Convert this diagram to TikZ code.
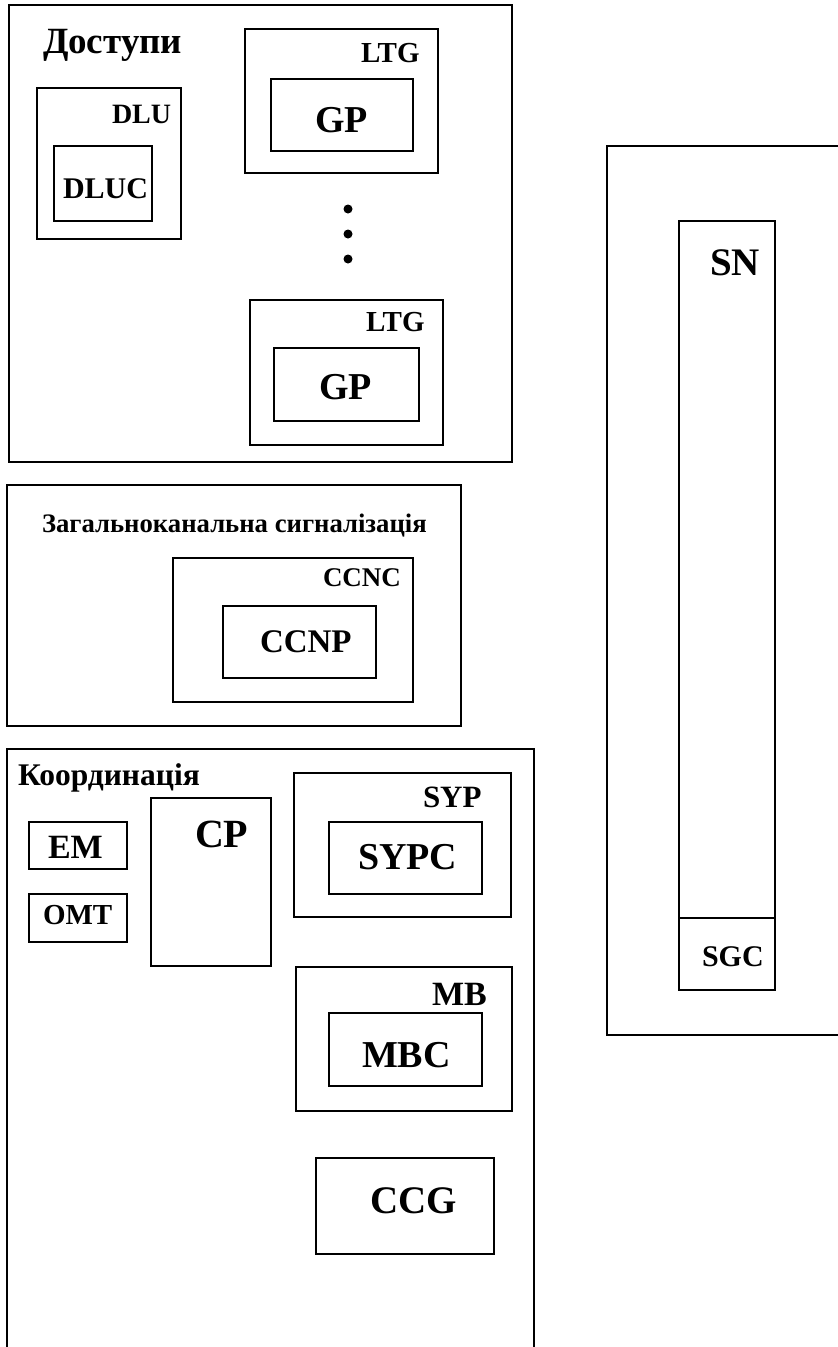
\documentclass[tikz,border=0pt]{standalone}
\usepackage{fontspec}
\setmainfont{Liberation Serif}
\usetikzlibrary{fit}
\tikzset{
  box/.style={draw=black, line width=2pt, inner sep=0pt, outer sep=0pt, rectangle},
  lbl/.style={font=\bfseries\fontsize{#1}{#1}\selectfont, inner sep=0pt, outer sep=0pt, anchor=base west, text=black},
  dot/.style={circle, fill=black, inner sep=0pt, minimum size=9pt}
}
% a box given by its top-left and bottom-right corners
\newcommand{\blk}[5]{\node[box, fit={(#2,#3) (#4,#5)}] (#1) {};}
\begin{document}
\begin{tikzpicture}[x=1pt,y=-1pt]
\useasboundingbox (0,0) rectangle (838,1347);
\clip (0,0) rectangle (838,1347);
\fill[white] (0,0) rectangle (838,1347);

% access block
\blk{dostupy}{9}{5}{512}{462}
\blk{dlu}{37}{88}{181}{239}
\blk{dluc}{54}{146}{152}{221}
\blk{ltgA}{245}{29}{438}{173}
\blk{gpA}{271}{79}{413}{151}
\blk{ltgB}{250}{300}{443}{445}
\blk{gpB}{274}{348}{419}{421}
\node[lbl=37] (tDostupy) at (43,53) {Доступи};
\node[lbl=28] (tDlu) at (112,123) {DLU};
\node[lbl=30] (tDluc) at (63,198) {DLUC};
\node[lbl=29] (tLtgA) at (361,62) {LTG};
\node[lbl=38] (tGpA) at (315,132) {GP};
\node[lbl=29] (tLtgB) at (366,331) {LTG};
\node[lbl=38] (tGpB) at (319,399) {GP};
\node[dot] (dotA) at (348,209) {};
\node[dot] (dotB) at (348,234) {};
\node[dot] (dotC) at (348,259) {};

% common channel signalling block
\blk{ccs}{7}{485}{461}{726}
\blk{ccnc}{173}{558}{413}{702}
\blk{ccnp}{223}{606}{376}{678}
\node[lbl=26.7] (tCcs) at (42,532) {Загальноканальна сигналізація};
\node[lbl=27] (tCcnc) at (323,586) {CCNC};
\node[lbl=33] (tCcnp) at (260,652) {CCNP};

% coordination block (runs past the lower edge)
\blk{coord}{7}{749}{534}{1365}
\blk{em}{29}{822}{127}{869}
\blk{omt}{29}{894}{127}{942}
\blk{cp}{151}{798}{271}{966}
\blk{syp}{294}{773}{511}{917}
\blk{sypc}{329}{822}{482}{894}
\blk{mb}{296}{967}{512}{1111}
\blk{mbc}{329}{1013}{482}{1086}
\blk{ccg}{316}{1158}{494}{1254}
\node[lbl=31.5] (tCoord) at (18,785) {Координація};
\node[lbl=34] (tEm) at (48,858) {EM};
\node[lbl=29] (tOmt) at (43,924) {OMT};
\node[lbl=40] (tCp) at (195,847) {CP};
\node[lbl=31] (tSyp) at (423,807) {SYP};
\node[lbl=38] (tSypc) at (358,869) {SYPC};
\node[lbl=34] (tMb) at (432,1005) {MB};
\node[lbl=38] (tMbc) at (362,1067) {MBC};
\node[lbl=39] (tCcg) at (370,1213) {CCG};

% switching network block (runs past the right edge)
\blk{snOuter}{607}{146}{852}{1035}
\blk{sn}{679}{221}{775}{918}
\blk{sgc}{679}{918}{775}{990}
\node[lbl=39] (tSn) at (710,275) {SN};
\node[lbl=30] (tSgc) at (702,966) {SGC};
\end{tikzpicture}
\end{document}
